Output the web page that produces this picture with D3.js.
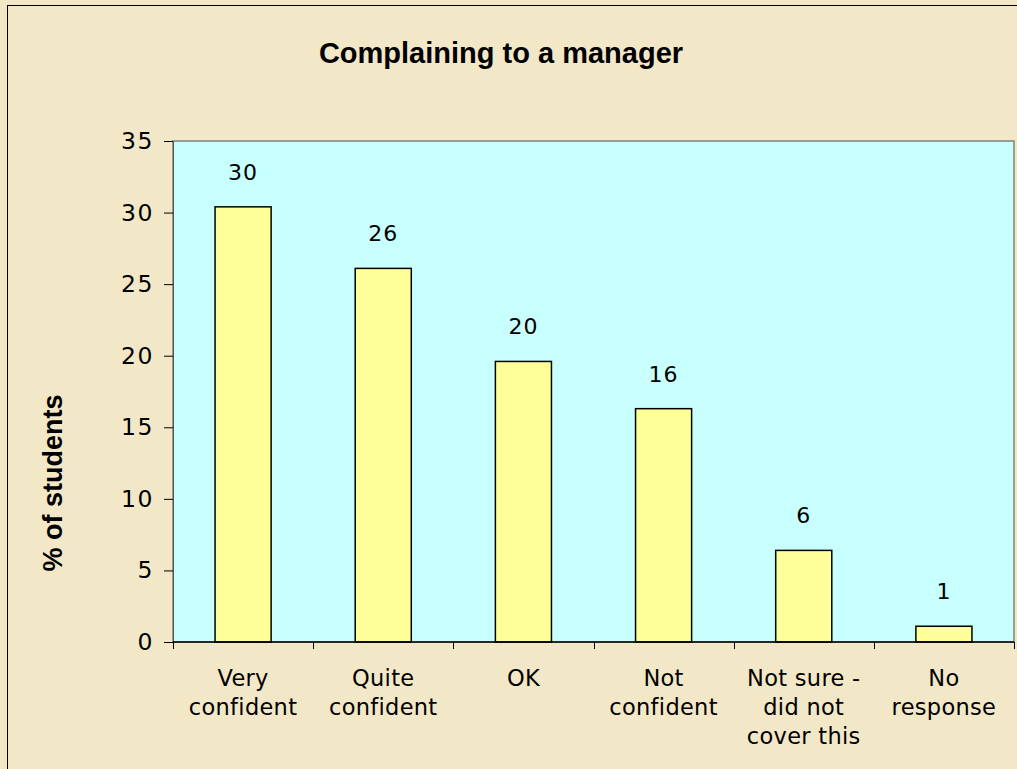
<!DOCTYPE html>
<html>
<head>
<meta charset="utf-8">
<script src="https://cdn.jsdelivr.net/npm/d3@7"></script>
<style>
  html, body { margin: 0; padding: 0; background: #F2E8C8; }
  svg { display: block; }
</style>
</head>
<body>
<svg id="chart" width="1017" height="769"></svg>
<script>
const categories = [
  ["Very", "confident"],
  ["Quite", "confident"],
  ["OK"],
  ["Not", "confident"],
  ["Not sure -", "did not", "cover this"],
  ["No", "response"]
];
const values = [30.4, 26.1, 19.6, 16.3, 6.4, 1.1];
const yTicks = [0, 5, 10, 15, 20, 25, 30, 35];
const titleText = "Complaining to a manager";
const yTitle = "% of students";

const W = 1017, H = 769;
const plot = { left: 173, top: 141, right: 1014, bottom: 642 };

const svg = d3.select("#chart");

// outer chart area
svg.append("rect")
  .attr("x", 7.5).attr("y", 5.5)
  .attr("width", W + 10).attr("height", H + 10)
  .attr("fill", "#F2E8C8").attr("stroke", "#000").attr("stroke-width", 1);

const x = d3.scaleBand()
  .domain(d3.range(categories.length))
  .range([plot.left, plot.right])
  .paddingInner(0.6).paddingOuter(0.3);

const y = d3.scaleLinear().domain([0, 35]).range([plot.bottom, plot.top]);

// plot area
svg.append("rect")
  .attr("x", plot.left).attr("y", plot.top)
  .attr("width", plot.right - plot.left).attr("height", plot.bottom - plot.top)
  .attr("fill", "#C8FFFF").attr("stroke", "#808080").attr("stroke-width", 1.5);

// bars
svg.append("g").selectAll("rect")
  .data(values)
  .join("rect")
  .attr("x", (d, i) => x(i))
  .attr("y", d => y(d))
  .attr("width", x.bandwidth())
  .attr("height", d => y(0) - y(d))
  .attr("fill", "#FFFF99")
  .attr("stroke", "#000")
  .attr("stroke-width", 1.5);

// data labels
svg.append("g").selectAll("text")
  .data(values)
  .join("text")
  .attr("x", (d, i) => x(i) + x.bandwidth() / 2)
  .attr("y", d => y(d) - 27)
  .attr("text-anchor", "middle")
  .attr("font-family", "DejaVu Sans, sans-serif")
  .attr("font-size", 22)
  .attr("letter-spacing", 1)
  .attr("fill", "#000")
  .text(d => Math.round(d));

// y axis
const yAxis = svg.append("g")
  .attr("transform", `translate(${plot.left},0)`)
  .call(d3.axisLeft(y).tickValues(yTicks).tickSize(9).tickPadding(10).tickSizeOuter(0));
yAxis.select(".domain").attr("stroke", "#555");
yAxis.selectAll(".tick line").attr("stroke", "#000");
yAxis.selectAll(".tick text")
  .attr("font-family", "DejaVu Sans, sans-serif")
  .attr("font-size", 23.5)
  .attr("letter-spacing", 1.5)
  .attr("fill", "#000");

// x axis
const xTickPositions = d3.range(categories.length + 1).map(i => plot.left + i * x.step());
const xAxisG = svg.append("g");
xAxisG.append("line")
  .attr("x1", plot.left).attr("x2", plot.right)
  .attr("y1", y(0)).attr("y2", y(0))
  .attr("stroke", "#000").attr("stroke-width", 1.5);
xAxisG.selectAll("line.tick")
  .data(xTickPositions)
  .join("line")
  .attr("class", "tick")
  .attr("x1", d => Math.round(d) + 0.5).attr("x2", d => Math.round(d) + 0.5)
  .attr("y1", y(0)).attr("y2", y(0) + 7)
  .attr("stroke", "#000").attr("stroke-width", 1);

// category labels
const catG = svg.append("g");
categories.forEach((lines, i) => {
  const t = catG.append("text")
    .attr("x", x(i) + x.bandwidth() / 2)
    .attr("y", 686)
    .attr("text-anchor", "middle")
    .attr("font-family", "DejaVu Sans, sans-serif")
    .attr("font-size", 22.5)
    .attr("letter-spacing", 0.3)
    .attr("fill", "#000");
  lines.forEach((ln, j) => {
    t.append("tspan")
      .attr("x", x(i) + x.bandwidth() / 2)
      .attr("dy", j === 0 ? 0 : 29)
      .text(ln);
  });
});

// title
svg.append("text")
  .attr("x", 501).attr("y", 63)
  .attr("text-anchor", "middle")
  .attr("font-family", "Liberation Sans, Arial, sans-serif")
  .attr("font-weight", "bold")
  .attr("font-size", 29)
  .attr("fill", "#000")
  .text(titleText);

// y title
svg.append("text")
  .attr("transform", "translate(62,483) rotate(-90)")
  .attr("text-anchor", "middle")
  .attr("font-family", "Liberation Sans, Arial, sans-serif")
  .attr("font-weight", "bold")
  .attr("font-size", 27)
  .attr("fill", "#000")
  .text(yTitle);
</script>
</body>
</html>
